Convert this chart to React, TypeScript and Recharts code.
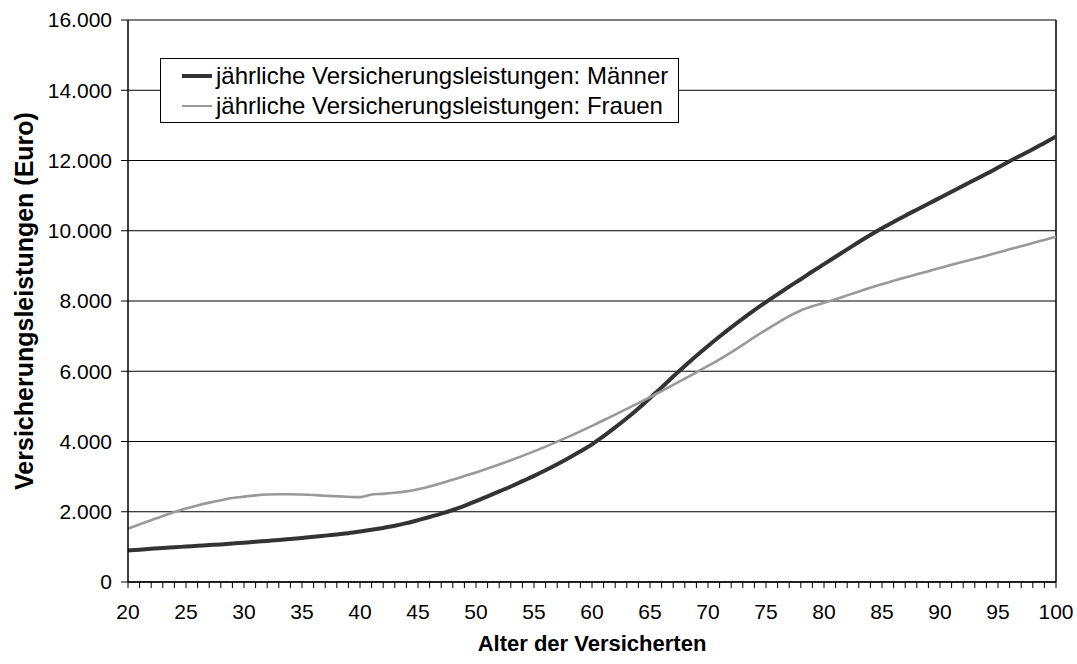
import React from 'react';
import { LineChart, Line, XAxis, YAxis, CartesianGrid, ReferenceLine, Label } from 'recharts';

const ages = [
  20, 21, 22, 23, 24, 25, 26, 27, 28, 29, 30, 31, 32, 33, 34, 35, 36, 37, 38, 39,
  40, 41, 42, 43, 44, 45, 46, 47, 48, 49, 50, 51, 52, 53, 54, 55, 56, 57, 58, 59,
  60, 61, 62, 63, 64, 65, 66, 67, 68, 69, 70, 71, 72, 73, 74, 75, 76, 77, 78, 79,
  80, 81, 82, 83, 84, 85, 86, 87, 88, 89, 90, 91, 92, 93, 94, 95, 96, 97, 98, 99, 100,
];

const maenner = [
  900, 920, 945, 970, 990, 1010, 1030, 1050, 1070, 1095,
  1120, 1145, 1170, 1195, 1225, 1255, 1285, 1320, 1355, 1390,
  1435, 1485, 1540, 1600, 1675, 1760, 1850, 1945, 2050, 2170,
  2300, 2440, 2580, 2720, 2870, 3020, 3180, 3350, 3530, 3720,
  3920, 4150, 4400, 4660, 4940, 5240, 5540, 5850, 6150, 6440,
  6720, 6990, 7250, 7500, 7740, 7970, 8190, 8410, 8620, 8840,
  9050, 9260, 9470, 9680, 9880, 10070, 10250, 10430, 10600, 10770,
  10940, 11110, 11280, 11450, 11620, 11800, 11980, 12150, 12320, 12500, 12680,
];

const frauen = [
  1520, 1640, 1760, 1880, 1990, 2090, 2180, 2260, 2330, 2390,
  2430, 2465, 2490, 2500, 2500, 2490, 2475, 2455, 2440, 2425,
  2415, 2490, 2510, 2540, 2580, 2640, 2720, 2810, 2910, 3015,
  3120, 3230, 3345, 3465, 3590, 3720, 3855, 3995, 4140, 4290,
  4445, 4605, 4765, 4930, 5095, 5265, 5435, 5610, 5790, 5970,
  6150, 6340, 6540, 6750, 6970, 7180, 7380, 7570, 7730, 7850,
  7950, 8050, 8160, 8270, 8380, 8480, 8575, 8670, 8760, 8850,
  8940, 9030, 9115, 9200, 9290, 9380, 9470, 9560, 9650, 9740, 9830,
];

const yTicks = [0, 2000, 4000, 6000, 8000, 10000, 12000, 14000, 16000];
const yTickLabels = ['0', '2.000', '4.000', '6.000', '8.000', '10.000', '12.000', '14.000', '16.000'];
const xLabelAges = [20, 25, 30, 35, 40, 45, 50, 55, 60, 65, 70, 75, 80, 85, 90, 95, 100];

const seriesNames = [
  'jährliche Versicherungsleistungen: Männer',
  'jährliche Versicherungsleistungen: Frauen',
];
const seriesColors = ['#333333', '#999999'];
const seriesWidths = [4, 2.6];

const data = ages.map((a, i) => ({ age: a, m: maenner[i], f: frauen[i] }));

const FONT = '"Liberation Sans", Arial, sans-serif';

const XTick = (props: any) => {
  const { x, y, payload } = props;
  if (!xLabelAges.includes(payload.value)) return <g />;
  return (
    <text x={x} y={y + 21} textAnchor="middle" dominantBaseline="central" fontSize={21} fontFamily={FONT} fill="#000">
      {payload.value}
    </text>
  );
};

const LegendBox = () => (
  <div
    style={{
      position: 'absolute',
      left: 160,
      top: 58,
      height: 65,
      border: '1px solid #000',
      background: '#fff',
      padding: '2px 10px 2px 21px',
      fontFamily: FONT,
      fontSize: 24,
      color: '#000',
      whiteSpace: 'nowrap',
      boxSizing: 'border-box',
    }}
  >
    {seriesNames.map((n, i) => (
      <div key={n} style={{ display: 'flex', alignItems: 'center', height: 30 }}>
        <div style={{ width: 30, height: seriesWidths[i], background: seriesColors[i], marginRight: 4 }} />
        <span>{n}</span>
      </div>
    ))}
  </div>
);

export default function App() {
  return (
    <div style={{ position: 'absolute', left: 0, top: 0, width: 1077, height: 664, background: '#fff' }}>
      <LineChart width={1077} height={664} data={data} margin={{ top: 20, right: 21, left: 0, bottom: 0 }}>
        <CartesianGrid horizontal vertical={false} stroke="#000" strokeWidth={1} />
        <XAxis
          dataKey="age"
          type="number"
          domain={[20, 100]}
          ticks={ages}
          interval={0}
          height={82}
          tickSize={6}
          tick={<XTick />}
          axisLine={{ stroke: '#000', strokeWidth: 1.5 }}
          tickLine={{ stroke: '#000' }}
        >
          <Label
            content={(p: any) => {
              const vb = p.viewBox;
              return (
                <text
                  x={vb.x + vb.width / 2}
                  y={vb.y + 61}
                  textAnchor="middle"
                  dominantBaseline="central"
                  fontSize={22}
                  fontWeight="bold"
                  fontFamily={FONT}
                  fill="#000"
                >
                  Alter der Versicherten
                </text>
              );
            }}
          />
        </XAxis>
        <YAxis
          type="number"
          domain={[0, 16000]}
          ticks={yTicks}
          width={128}
          tickSize={7}
          tickMargin={9}
          tickFormatter={(v: number) => yTickLabels[yTicks.indexOf(v)]}
          tick={{ fontSize: 21, fontFamily: FONT, fill: '#000' }}
          axisLine={{ stroke: '#000', strokeWidth: 1.5 }}
          tickLine={{ stroke: '#000' }}
        >
          <Label
            content={(p: any) => {
              const vb = p.viewBox;
              const cx = 24;
              const cy = vb.y + vb.height / 2;
              return (
                <text
                  x={cx}
                  y={cy}
                  transform={`rotate(-90 ${cx} ${cy})`}
                  textAnchor="middle"
                  dominantBaseline="central"
                  fontSize={25}
                  fontWeight="bold"
                  fontFamily={FONT}
                  fill="#000"
                >
                  Versicherungsleistungen (Euro)
                </text>
              );
            }}
          />
        </YAxis>
        <ReferenceLine x={100} stroke="#000" strokeWidth={1.5} />
        <Line
          type="monotone"
          dataKey="m"
          name={seriesNames[0]}
          stroke={seriesColors[0]}
          strokeWidth={seriesWidths[0]}
          dot={false}
          isAnimationActive={false}
        />
        <Line
          type="monotone"
          dataKey="f"
          name={seriesNames[1]}
          stroke={seriesColors[1]}
          strokeWidth={seriesWidths[1]}
          dot={false}
          isAnimationActive={false}
        />
      </LineChart>
      <LegendBox />
    </div>
  );
}
